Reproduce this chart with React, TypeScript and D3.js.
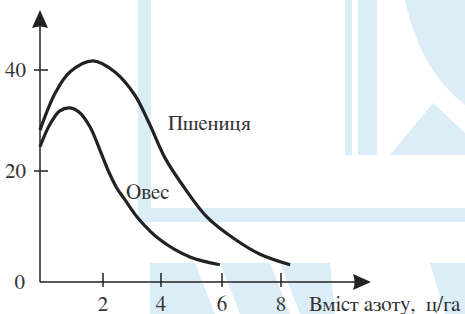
import React from "react";
import * as d3 from "d3";

const xTicks = [2, 4, 6, 8];
const yTicks = [0, 20, 40];

const wheatX = [0, 0.48, 0.95, 1.68, 2.41, 3.1, 3.62, 4.13, 4.79, 5.51, 6.44, 7.29, 8.31];
const wheatY = [28.1, 35.4, 39.6, 41.8, 39.6, 35.0, 29.1, 22.6, 16.8, 11.7, 7.7, 5.0, 3.1];

const oatsX = [0, 0.32, 0.63, 0.95, 1.27, 1.59, 1.9, 2.17, 2.48, 2.76, 3.21, 3.97, 4.95, 5.93];
const oatsY = [24.8, 29.3, 31.9, 32.5, 31.5, 28.7, 24.2, 20.2, 16.9, 14.8, 11.5, 7.6, 4.5, 3.1];

const wheatLabel = "Пшениця";
const oatsLabel = "Овес";
const xTitle = "Вміст азоту,\u00A0 ц/га";

const FONT = "FreeSerif";

function T(props: { x: number; y: number; anchor?: string; children: React.ReactNode }) {
  return (
    <text
      x={props.x}
      y={props.y}
      textAnchor={props.anchor || "start"}
      fontFamily={FONT}
      fontSize={21}
      fill="#333"
      style={{ fontFamily: FONT }}
    >
      {props.children}
    </text>
  );
}

export default function App() {
  const W = 465;
  const H = 314;
  const x = d3.scaleLinear().domain([0, 2, 4, 6, 8]).range([40, 103, 161, 222, 281]);
  const y = d3.scaleLinear().domain([0, 20, 40]).range([282, 171, 70]);
  const mk = (xs: number[], ys: number[]) =>
    d3
      .line<[number, number]>()
      .x((d) => x(d[0]))
      .y((d) => y(d[1]))
      .curve(d3.curveCatmullRom.alpha(0.5))(xs.map((v, i) => [v, ys[i]] as [number, number])) || "";
  const wm = "#dbeef8";
  const ink = "#222";
  const x0 = x(0);
  const yb = y(0);
  return (
    <svg width={W} height={H} style={{ position: "absolute", left: 0, top: 0 }}>
      {/* faint watermark */}
      <g fill={wm}>
        <rect x={138} y={0} width={13} height={222} />
        <rect x={138} y={208} width={327} height={14} />
        <rect x={345} y={0} width={7} height={155} />
        <rect x={358} y={0} width={19} height={155} />
        <path d="M405,0 L465,0 L465,105 Q420,70 405,0 Z" />
        <path d="M390,155 L433,103 L465,133 L465,155 Z" />
        <path d="M150,263 L195,263 L215,314 L150,314 Z" />
        <path d="M220,263 L270,263 L290,314 L240,314 Z" />
        <path d="M280,263 L330,263 L335,314 L300,314 Z" />
        <path d="M430,263 L465,263 L465,314 L445,314 Z" />
      </g>

      {/* curves */}
      <path d={mk(wheatX, wheatY)} fill="none" stroke={ink} strokeWidth={3.2} />
      <path d={mk(oatsX, oatsY)} fill="none" stroke={ink} strokeWidth={3.2} />

      {/* axes */}
      <line x1={x0} y1={yb} x2={x0} y2={25} stroke={ink} strokeWidth={1.5} />
      <line x1={x0} y1={yb} x2={356} y2={yb} stroke={ink} strokeWidth={1.5} />
      <path d={`M${x0},10 L${x0 + 8},28 Q${x0},25 ${x0 - 8},28 Z`} fill={ink} />
      <path d={`M371,${yb} L353,${yb - 8} Q356,${yb} 353,${yb + 8} Z`} fill={ink} />

      {/* y ticks */}
      {yTicks
        .filter((t) => t !== 0)
        .map((t) => (
          <line key={t} x1={x0 - 6} x2={x0 + 8} y1={y(t)} y2={y(t)} stroke={ink} strokeWidth={1.5} />
        ))}
      {yTicks.map((t) => (
        <T key={"yl" + t} x={t === 0 ? 25 : 26} y={y(t) + 7} anchor="end">
          {String(t)}
        </T>
      ))}

      {/* x ticks */}
      {xTicks.map((t) => (
        <g key={t}>
          <line x1={x(t)} x2={x(t)} y1={yb - 9} y2={yb + 5} stroke={ink} strokeWidth={1.5} />
          <T x={x(t)} y={311} anchor="middle">
            {String(t)}
          </T>
        </g>
      ))}

      <T x={309} y={311}>{xTitle}</T>
      <T x={168} y={130}>{wheatLabel}</T>
      <T x={126} y={199}>{oatsLabel}</T>
    </svg>
  );
}
